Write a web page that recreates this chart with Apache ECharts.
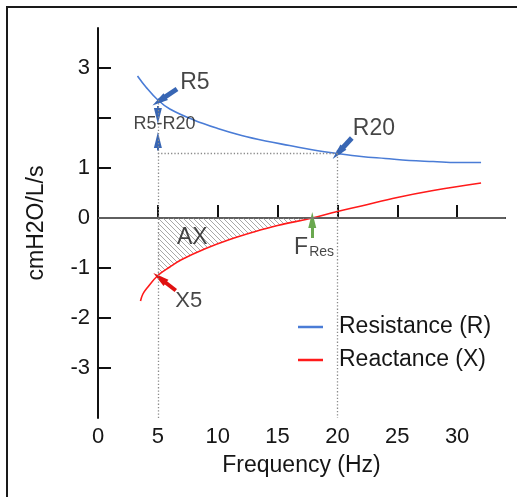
<!DOCTYPE html>
<html><head><meta charset="utf-8">
<script src="https://cdn.jsdelivr.net/npm/echarts@6/dist/echarts.min.js"></script>
<style>
html,body{margin:0;padding:0;background:#fff;}
#c{position:absolute;left:0;top:0;width:517px;height:497px;}
#frame{position:absolute;left:6px;top:6px;width:520px;height:500px;border-top:2px solid #1a1a1a;border-left:2px solid #1a1a1a;pointer-events:none;}
</style></head>
<body>
<div id="c"></div><div id="frame"></div>
<script>
// ---- data ----
const freqR = [3.3, 4, 5, 6, 8, 10, 12, 14, 16, 18, 20, 22, 24, 26, 28, 30, 32];
const resR  = [2.84, 2.62, 2.36, 2.18, 1.96, 1.79, 1.65, 1.54, 1.45, 1.36, 1.29, 1.23, 1.19, 1.15, 1.13, 1.11, 1.11];
const freqX = [3.55, 3.75, 4.1, 5, 6, 7, 9, 11, 13, 15, 17.9, 20, 22, 25, 28, 32];
const reaX  = [-1.66, -1.52, -1.4, -1.15, -0.98, -0.83, -0.61, -0.43, -0.28, -0.15, 0, 0.13, 0.24, 0.41, 0.55, 0.70];
const xTickValues = [5, 10, 15, 20, 25, 30];
const xLabelValues = [0, 5, 10, 15, 20, 25, 30];
const yTickValues = [-3, -2, -1, 0, 1, 2, 3];
const yLabelValues = [-3, -2, -1, 0, 1, 3];
const seriesNames = ['Resistance (R)', 'Reactance (X)'];
const fLow = 5, fHigh = 20, fRes = 17.9;

// ---- derived ----
const rData = freqR.map((f, i) => [f, resR[i]]);
const xData = freqX.map((f, i) => [f, reaX[i]]);
const R5 = resR[freqR.indexOf(fLow)];
const R20 = resR[freqR.indexOf(fHigh)];
const X5 = reaX[freqX.indexOf(fLow)];
const axData = xData.filter(d => d[0] >= fLow && d[0] <= fRes);
const yMin = -4, yMax = 3.8, xMin = 0, xMax = 34;

function hatch() {
  const c = document.createElement('canvas');
  c.width = 5; c.height = 5;
  const g = c.getContext('2d');
  g.strokeStyle = '#a8a8a8'; g.lineWidth = 1;
  g.beginPath();
  g.moveTo(-1, -1); g.lineTo(6, 6);
  g.moveTo(-6, -1); g.lineTo(1, 6);
  g.moveTo(4, -1); g.lineTo(11, 6);
  g.stroke();
  return c;
}

const BLUE = '#4a7cd6', RED = '#ff1a1a', ABLUE = '#3866b4', GREEN = '#6aa84f', TXT = '#161616';
const FONT = 'Liberation Sans, Arial, sans-serif';
const SMOOTH = 0.4;

function arrow(from, to, color, width, head) {
  return [{coord: from, lineStyle: {color: color, width: width, type: 'solid'}, symbolSize: head},
          {coord: to}];
}

const annotations = [
  {name: 'R5', value: [8.1, 2.70], size: 23},
  {name: 'R5-R20', value: [5.56, 1.88], size: 18},
  {name: 'R20', value: [23.05, 1.78], size: 23},
  {name: 'AX', value: [7.88, -0.40], size: 23},
  {name: 'X5', value: [7.58, -1.65], size: 22},
  {name: 'FRES', value: [18.05, -0.60], size: 23}
];

const chart = echarts.init(document.getElementById('c'), null, {renderer: 'canvas'});
chart.setOption({
  animation: false,
  backgroundColor: '#fff',
  textStyle: {fontFamily: FONT},
  grid: {left: 98, right: 12, top: 28, bottom: 79, containLabel: false},
  legend: {
    data: seriesNames,
    orient: 'vertical',
    left: 298, top: 315, padding: 0,
    icon: 'rect', itemWidth: 25, itemHeight: 2.5, itemGap: 9,
    textStyle: {fontSize: 23, color: TXT, fontFamily: FONT, lineHeight: 24, padding: [0, 0, 0, 11]}
  },
  xAxis: {
    type: 'value', min: xMin, max: xMax,
    name: 'Frequency (Hz)', nameLocation: 'middle', nameGap: 36,
    nameTextStyle: {fontSize: 23, color: TXT, fontFamily: FONT},
    axisLine: {show: true, lineStyle: {color: '#111', width: 2}},
    axisTick: {show: true, inside: true, length: 13, lineStyle: {color: '#111', width: 2}, customValues: xTickValues},
    axisLabel: {fontSize: 22, color: TXT, margin: 8, fontFamily: FONT, customValues: xLabelValues},
    splitLine: {show: false}
  },
  yAxis: {
    type: 'value', min: yMin, max: yMax,
    name: 'cmH2O/L/s', nameLocation: 'middle', nameGap: 50, nameRotate: 90,
    nameTextStyle: {fontSize: 23, color: TXT, fontFamily: FONT},
    axisLine: {show: true, onZero: false, lineStyle: {color: '#111', width: 2}},
    axisTick: {show: true, inside: true, length: 13, lineStyle: {color: '#111', width: 2}, customValues: yTickValues},
    axisLabel: {fontSize: 22, color: TXT, margin: 8, fontFamily: FONT, customValues: yLabelValues},
    splitLine: {show: false}
  },
  series: [
    {
      name: 'AX', type: 'line', data: axData, smooth: SMOOTH,
      showSymbol: false, symbol: 'none', silent: true, z: 1,
      lineStyle: {width: 0, opacity: 0},
      areaStyle: {color: {image: hatch(), repeat: 'repeat'}, opacity: 1, origin: 0},
      markLine: {
        silent: true, symbol: ['none', 'none'], label: {show: false},
        lineStyle: {color: '#7a7a7a', width: 1.5, type: 'solid'},
        data: [{yAxis: 0}]
      }
    },
    {
      name: 'guides', type: 'line', data: [], silent: true, z: 1,
      markLine: {
        silent: true, symbol: ['none', 'none'], label: {show: false},
        lineStyle: {color: '#8a8a8a', width: 1.3, type: [1.3, 2]},
        data: [
          [{coord: [fLow, R5]}, {coord: [fLow, yMin]}],
          [{coord: [fHigh, R20]}, {coord: [fHigh, yMin]}],
          [{coord: [fLow, R20]}, {coord: [fHigh, R20]}]
        ]
      }
    },
    {
      name: seriesNames[0], type: 'line', data: rData, smooth: SMOOTH,
      showSymbol: false, symbol: 'none', color: BLUE, z: 3,
      lineStyle: {color: BLUE, width: 1.6}
    },
    {
      name: seriesNames[1], type: 'line', data: xData, smooth: SMOOTH,
      showSymbol: false, symbol: 'none', color: RED, z: 3,
      lineStyle: {color: RED, width: 1.6}
    },
    {
      name: 'arrows', type: 'line', data: [], silent: true, z: 4,
      markLine: {
        silent: true, symbol: ['none', 'triangle'], label: {show: false}, z: 4,
        data: [
          arrow([6.6, 2.58], [fLow + 0.1, R5 - 0.02], ABLUE, 5, [10, 8]),
          arrow([fLow, 2.24], [fLow, 2.04], ABLUE, 2, [7, 6]),
          arrow([fLow, R20 + 0.06], [fLow, 1.56], ABLUE, 2, [7, 6]),
          arrow([21.2, 1.6], [fHigh + 0.05, R20 + 0.01], ABLUE, 5, [10, 8]),
          arrow([fRes, -0.40], [fRes, -0.04], GREEN, 3, [8, 7]),
          arrow([6.5, -1.45], [fLow + 0.15, X5 - 0.05], '#e01010', 4, [7, 6])
        ]
      }
    },
    {
      name: 'annot', type: 'scatter', symbolSize: 0, silent: true, z: 5,
      data: annotations.map(a => ({
        name: a.name, value: a.value,
        label: {
          show: true, position: [0, 0], align: 'center', verticalAlign: 'middle',
          color: TXT, fontSize: a.size, fontFamily: FONT,
          formatter: a.name === 'FRES' ? '{f|F}{s|Res}' : a.name,
          rich: {
            f: {fontSize: 23, color: TXT, fontFamily: FONT, verticalAlign: 'bottom'},
            s: {fontSize: 14, color: TXT, fontFamily: FONT, verticalAlign: 'bottom', padding: [0, 0, 0, 1]}
          }
        }
      }))
    }
  ]
});
</script>
</body></html>
